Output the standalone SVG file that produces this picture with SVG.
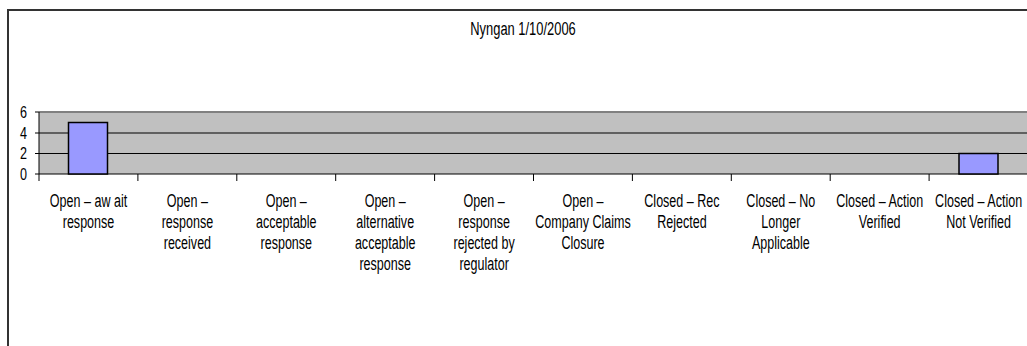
<svg xmlns="http://www.w3.org/2000/svg" width="1027" height="346" viewBox="0 0 1027 346">
<style>
text{font-family:"Liberation Sans",Arial,sans-serif;font-size:19px;fill:#000}
.cat text{text-anchor:middle}
.ylab{text-anchor:end;font-size:17px}
.grid{stroke:#000;stroke-width:1}
.bar{fill:#9999FF;stroke:#000;stroke-width:1.5}
.tick{stroke:#000;stroke-width:1}
</style>
<rect width="1027" height="346" fill="#fff"/>
<g id="frame">
<path d="M8,346 V10 H1027" fill="none" stroke="#333" stroke-width="2"/>
</g>
<g id="title" transform="translate(523,0) scale(0.68,1)"><text x="0" y="35" text-anchor="middle">Nyngan 1/10/2006</text></g>
<g id="plot">
<rect x="39" y="112" width="990" height="62" fill="#C0C0C0"/>
<line x1="39" y1="112" x2="1027" y2="112" stroke="#808080" stroke-width="2"/>
<line class="grid" x1="35" y1="133" x2="1027" y2="133"/>
<line class="grid" x1="35" y1="153.5" x2="1027" y2="153.5"/>
<line class="grid" x1="35" y1="112" x2="39" y2="112"/>
<line class="grid" x1="35" y1="174" x2="1027" y2="174"/>
<line class="grid" x1="39" y1="112" x2="39" y2="181"/>
</g>
<g id="bars">
<rect class="bar" x="68.5" y="122.5" width="39" height="51.5"/>
<rect class="bar" x="959" y="153.5" width="39" height="20.5"/>
</g>
<g id="ticks">
<line class="tick" x1="137.9" y1="174" x2="137.9" y2="181"/>
<line class="tick" x1="236.8" y1="174" x2="236.8" y2="181"/>
<line class="tick" x1="335.7" y1="174" x2="335.7" y2="181"/>
<line class="tick" x1="434.6" y1="174" x2="434.6" y2="181"/>
<line class="tick" x1="533.5" y1="174" x2="533.5" y2="181"/>
<line class="tick" x1="632.4" y1="174" x2="632.4" y2="181"/>
<line class="tick" x1="731.3" y1="174" x2="731.3" y2="181"/>
<line class="tick" x1="830.2" y1="174" x2="830.2" y2="181"/>
<line class="tick" x1="929.1" y1="174" x2="929.1" y2="181"/>
</g>
<g id="yaxis" transform="translate(27,0) scale(0.74,1)">
<text class="ylab" x="0" y="118">6</text>
<text class="ylab" x="0" y="139">4</text>
<text class="ylab" x="0" y="159.5">2</text>
<text class="ylab" x="0" y="180">0</text>
</g>
<g id="cat1" class="cat" transform="translate(88.5,0) scale(0.66,1)"><text x="0" y="207">Open – aw ait</text><text x="0" y="228">response</text></g>
<g id="cat2" class="cat" transform="translate(187.4,0) scale(0.66,1)"><text x="0" y="207">Open –</text><text x="0" y="228">response</text><text x="0" y="249">received</text></g>
<g id="cat3" class="cat" transform="translate(286.3,0) scale(0.66,1)"><text x="0" y="207">Open –</text><text x="0" y="228">acceptable</text><text x="0" y="249">response</text></g>
<g id="cat4" class="cat" transform="translate(385.2,0) scale(0.66,1)"><text x="0" y="207">Open –</text><text x="0" y="228">alternative</text><text x="0" y="249">acceptable</text><text x="0" y="270">response</text></g>
<g id="cat5" class="cat" transform="translate(484.1,0) scale(0.66,1)"><text x="0" y="207">Open –</text><text x="0" y="228">response</text><text x="0" y="249">rejected by</text><text x="0" y="270">regulator</text></g>
<g id="cat6" class="cat" transform="translate(583,0) scale(0.66,1)"><text x="0" y="207">Open –</text><text x="0" y="228">Company Claims</text><text x="0" y="249">Closure</text></g>
<g id="cat7" class="cat" transform="translate(681.9,0) scale(0.66,1)"><text x="0" y="207">Closed – Rec</text><text x="0" y="228">Rejected</text></g>
<g id="cat8" class="cat" transform="translate(780.8,0) scale(0.66,1)"><text x="0" y="207">Closed – No</text><text x="0" y="228">Longer</text><text x="0" y="249">Applicable</text></g>
<g id="cat9" class="cat" transform="translate(879.7,0) scale(0.66,1)"><text x="0" y="207">Closed – Action</text><text x="0" y="228">Verified</text></g>
<g id="cat10" class="cat" transform="translate(978.6,0) scale(0.66,1)"><text x="0" y="207">Closed – Action</text><text x="0" y="228">Not Verified</text></g>
</svg>
